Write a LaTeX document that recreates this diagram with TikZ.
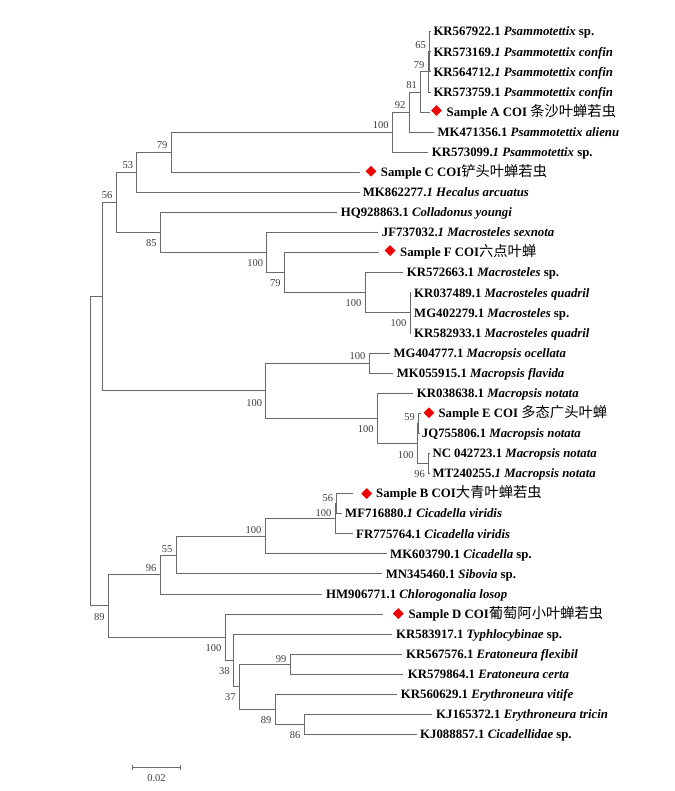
\documentclass[tikz,border=0pt]{standalone}
\usepackage{fontspec}
\setmainfont{Liberation Serif}
\newfontfamily\cjk{Noto Sans CJK SC}
\usetikzlibrary{shapes.geometric}
\definecolor{brc}{RGB}{105,105,105}
\definecolor{bsc}{RGB}{60,60,60}
\definecolor{mk}{RGB}{240,0,0}
\newcommand\ly[1]{(11.62+20.08*(#1))}
\newcommand\acc[1]{\textbf{#1}}
\newcommand\sci[1]{\textbf{\textit{#1}}}
\newcommand\zh[1]{{\cjk\fontsize{14.3}{16}\selectfont #1}}
\tikzset{
  br/.style={draw=brc, line width=0.8pt},
  leaf/.style={anchor=base west, inner sep=0pt, font=\fontsize{12.8}{15}\selectfont},
  bs/.style={font=\fontsize{10.5}{12}\selectfont, text=bsc, inner sep=0pt, anchor=east, xshift=-3.5pt},
  bsa/.style={bs, yshift=7pt},
  bsb/.style={bs, yshift=-10.5pt},
  mark diamond/.style={diamond, aspect=1, fill=mk, draw=none, minimum width=11pt, minimum height=11pt, inner sep=0pt}
}
\begin{document}
\begin{tikzpicture}[x=1pt,y=-1pt]
\useasboundingbox (0,0) rectangle (674,791);
% internal nodes
\coordinate (n65) at (429.5,{\ly{2}});
\coordinate (n79a) at (428,{\ly{3}});
\coordinate (n81) at (420.5,{\ly{4}});
\coordinate (n92) at (409,{\ly{5}});
\coordinate (n100a) at (392.3,{\ly{6}});
\coordinate (n79b) at (171,{\ly{7}});
\coordinate (n53) at (136.7,{\ly{8}});
\coordinate (n56) at (116,{\ly{9.5}});
\coordinate (n85) at (160.3,{\ly{11}});
\coordinate (n100b) at (266.7,{\ly{12}});
\coordinate (n79c) at (284.3,{\ly{13}});
\coordinate (n100c) at (365,{\ly{14}});
\coordinate (n100d) at (410,{\ly{15}});
\coordinate (nA) at (102.3,{\ly{14.1875}});
\coordinate (nMac) at (265.7,{\ly{18.875}});
\coordinate (nMacA) at (369,{\ly{17.5}});
\coordinate (nMacB) at (377.3,{\ly{20.25}});
\coordinate (nE2) at (417.3,{\ly{21.5}});
\coordinate (n59) at (418.5,{\ly{20.5}});
\coordinate (n96a) at (428.5,{\ly{22.5}});
\coordinate (root) at (90,{\ly{21.890625}});
\coordinate (nB) at (108.3,{\ly{29.59375}});
\coordinate (n96b) at (160,{\ly{28.03125}});
\coordinate (n55) at (176,{\ly{27.0625}});
\coordinate (n100f) at (265,{\ly{26.125}});
\coordinate (n100e) at (335,{\ly{25.25}});
\coordinate (n56b) at (336.7,{\ly{24.5}});
\coordinate (nD) at (225,{\ly{31.15625}});
\coordinate (n38) at (233.3,{\ly{32.3125}});
\coordinate (n37) at (239.3,{\ly{33.625}});
\coordinate (n99) at (290,{\ly{32.5}});
\coordinate (n89b) at (275,{\ly{34.75}});
\coordinate (n86) at (304,{\ly{35.5}});
% leaf branch ends
\coordinate (e1) at (430.5,{\ly{1}});
\coordinate (e2) at (430.5,{\ly{2}});
\coordinate (e3) at (430.5,{\ly{3}});
\coordinate (e4) at (430.5,{\ly{4}});
\coordinate (e5) at (430,{\ly{5}});
\coordinate (e6) at (434,{\ly{6}});
\coordinate (e7) at (428.3,{\ly{7}});
\coordinate (e8) at (360,{\ly{8}});
\coordinate (e9) at (359.5,{\ly{9}});
\coordinate (e10) at (336.7,{\ly{10}});
\coordinate (e11) at (378,{\ly{11}});
\coordinate (e12) at (379.3,{\ly{12}});
\coordinate (e13) at (402.7,{\ly{13}});
\coordinate (e14) at (411,{\ly{14}});
\coordinate (e15) at (411,{\ly{15}});
\coordinate (e16) at (411,{\ly{16}});
\coordinate (e17) at (390,{\ly{17}});
\coordinate (e18) at (393.3,{\ly{18}});
\coordinate (e19) at (413,{\ly{19}});
\coordinate (e20) at (421,{\ly{20}});
\coordinate (e21) at (419.5,{\ly{21}});
\coordinate (e22) at (429.5,{\ly{22}});
\coordinate (e23) at (429.5,{\ly{23}});
\coordinate (e24) at (353.3,{\ly{24}});
\coordinate (e25) at (341.7,{\ly{25}});
\coordinate (e26) at (353.3,{\ly{26}});
\coordinate (e27) at (386.7,{\ly{27}});
\coordinate (e28) at (381.7,{\ly{28}});
\coordinate (e29) at (321.7,{\ly{29}});
\coordinate (e30) at (383.3,{\ly{30}});
\coordinate (e31) at (391.7,{\ly{31}});
\coordinate (e32) at (401.7,{\ly{32}});
\coordinate (e33) at (403.3,{\ly{33}});
\coordinate (e34) at (396.7,{\ly{34}});
\coordinate (e35) at (431.7,{\ly{35}});
\coordinate (e36) at (416.7,{\ly{36}});
% branches
\draw[br] (root) |- (nA);   \draw[br] (root) |- (nB);
\draw[br] (nA) |- (n56);    \draw[br] (nA) |- (nMac);
\draw[br] (n56) |- (n53);   \draw[br] (n56) |- (n85);
\draw[br] (n53) |- (n79b);  \draw[br] (n53) |- (e9);
\draw[br] (n79b) |- (n100a);\draw[br] (n79b) |- (e8);
\draw[br] (n100a) |- (n92); \draw[br] (n100a) |- (e7);
\draw[br] (n92) |- (n81);   \draw[br] (n92) |- (e6);
\draw[br] (n81) |- (n79a);  \draw[br] (n81) |- (e5);
\draw[br] (n79a) |- (n65);  \draw[br] (n79a) |- (e4);
\draw[br] (n65) |- (e1); \draw[br] (n65) |- (e2); \draw[br] (n65) |- (e3);
\draw[br] (n85) |- (e10);   \draw[br] (n85) |- (n100b);
\draw[br] (n100b) |- (e11); \draw[br] (n100b) |- (n79c);
\draw[br] (n79c) |- (e12);  \draw[br] (n79c) |- (n100c);
\draw[br] (n100c) |- (e13); \draw[br] (n100c) |- (n100d);
\draw[br] (n100d) |- (e14); \draw[br] (n100d) |- (e15); \draw[br] (n100d) |- (e16);
\draw[br] (nMac) |- (nMacA);\draw[br] (nMac) |- (nMacB);
\draw[br] (nMacA) |- (e17); \draw[br] (nMacA) |- (e18);
\draw[br] (nMacB) |- (e19); \draw[br] (nMacB) |- (nE2);
\draw[br] (nE2) |- (n59);   \draw[br] (nE2) |- (n96a);
\draw[br] (n59) |- (e20);   \draw[br] (n59) |- (e21);
\draw[br] (n96a) |- (e22);  \draw[br] (n96a) |- (e23);
\draw[br] (nB) |- (n96b);   \draw[br] (nB) |- (nD);
\draw[br] (n96b) |- (n55);  \draw[br] (n96b) |- (e29);
\draw[br] (n55) |- (n100f); \draw[br] (n55) |- (e28);
\draw[br] (n100f) |- (n100e);\draw[br] (n100f) |- (e27);
\draw[br] (n100e) |- (n56b);\draw[br] (n100e) |- (e26);
\draw[br] (n56b) |- (e24);  \draw[br] (n56b) |- (e25);
\draw[br] (nD) |- (e30);    \draw[br] (nD) |- (n38);
\draw[br] (n38) |- (e31);   \draw[br] (n38) |- (n37);
\draw[br] (n37) |- (n99);   \draw[br] (n37) |- (n89b);
\draw[br] (n99) |- (e32);   \draw[br] (n99) |- (e33);
\draw[br] (n89b) |- (e34);  \draw[br] (n89b) |- (n86);
\draw[br] (n86) |- (e35);   \draw[br] (n86) |- (e36);
% bootstrap values
\node[bsa] (b65) at (n65) {65};
\node[bsa] (b79a) at (n79a) {79};
\node[bsa] (b81) at (n81) {81};
\node[bsa] (b92) at (n92) {92};
\node[bsa] (b100a) at (n100a) {100};
\node[bsa] (b79b) at (n79b) {79};
\node[bsa] (b53) at (n53) {53};
\node[bsa] (b56) at (n56) {56};
\node[bsb] (b85) at (n85) {85};
\node[bsb] (b100b) at (n100b) {100};
\node[bsb] (b79c) at (n79c) {79};
\node[bsb] (b100c) at (n100c) {100};
\node[bsb] (b100d) at (n100d) {100};
\node[bsa] (b100mA) at (nMacA) {100};
\node[bs, yshift=-12pt] (b100m) at (nMac) {100};
\node[bs, yshift=-11pt] (b100mB) at (nMacB) {100};
\node[bsa, yshift=-1pt] (b59) at (n59) {59};
\node[bs, yshift=-12pt] (b100e2) at (nE2) {100};
\node[bs, yshift=-11pt] (b96a) at (n96a) {96};
\node[bsa, yshift=-1pt] (b56b) at (n56b) {56};
\node[bsa, yshift=-1pt] (b100e) at (n100e) {100};
\node[bsa, yshift=-1pt] (b100f) at (n100f) {100};
\node[bsa, yshift=-1pt] (b55) at (n55) {55};
\node[bsa, yshift=-1pt] (b96b) at (n96b) {96};
\node[bs, yshift=-11pt] (b89a) at (nB) {89};
\node[bsb] (b100D) at (nD) {100};
\node[bs, yshift=-11pt] (b38) at (n38) {38};
\node[bsa, yshift=-2pt] (b99) at (n99) {99};
\node[bsb] (b37) at (n37) {37};
\node[bsb] (b89b) at (n89b) {89};
\node[bsb] (b86) at (n86) {86};
% markers
\node[mark diamond] (dA) at (436.5,{\ly{5}-1.5}) {};
\node[mark diamond] (dC) at (371,{\ly{8}-1}) {};
\node[mark diamond] (dF) at (390,{\ly{12}-2}) {};
\node[mark diamond] (dE) at (429,{\ly{20}-0.5}) {};
\node[mark diamond] (dB) at (366.7,{\ly{24}}) {};
\node[mark diamond] (dD) at (398.3,{\ly{30}-0.5}) {};
% leaf labels
\node[leaf] (L1) at (433.3,{\ly{1}+4.3}) {\acc{KR567922.1} \sci{Psammotettix} \acc{sp.}};
\node[leaf] (L2) at (433.3,{\ly{2}+4.3}) {\acc{KR573169.\textit{1}} \sci{Psammotettix confin}};
\node[leaf] (L3) at (433.3,{\ly{3}+4.3}) {\acc{KR564712.\textit{1}} \sci{Psammotettix confin}};
\node[leaf] (L4) at (433.3,{\ly{4}+4.3}) {\acc{KR573759.1} \sci{Psammotettix confin}};
\node[leaf] (L5) at (446.5,{\ly{5}+4.3}) {\acc{Sample A COI} \zh{条沙叶蝉若虫}};
\node[leaf] (L6) at (437.3,{\ly{6}+4.3}) {\acc{MK471356.1} \sci{Psammotettix alienu}};
\node[leaf] (L7) at (431.7,{\ly{7}+4.3}) {\acc{KR573099.\textit{1}} \sci{Psammotettix} \acc{sp.}};
\node[leaf] (L8) at (380.7,{\ly{8}+4.3}) {\acc{Sample C COI}\zh{铲头叶蝉若虫}};
\node[leaf] (L9) at (362.7,{\ly{9}+4.3}) {\acc{MK862277.\textit{1}} \sci{Hecalus arcuatus}};
\node[leaf] (L10) at (340.7,{\ly{10}+4.3}) {\acc{HQ928863.1} \sci{Colladonus youngi}};
\node[leaf] (L11) at (381.7,{\ly{11}+4.3}) {\acc{JF737032.\textit{1}} \sci{Macrosteles sexnota}};
\node[leaf] (L12) at (400,{\ly{12}+4.3}) {\acc{Sample F COI}\zh{六点叶蝉}};
\node[leaf] (L13) at (406.7,{\ly{13}+4.3}) {\acc{KR572663.1} \sci{Macrosteles} \acc{sp.}};
\node[leaf] (L14) at (414,{\ly{14}+4.3}) {\acc{KR037489.1} \sci{Macrosteles quadril}};
\node[leaf] (L15) at (414,{\ly{15}+4.3}) {\acc{MG402279.1} \sci{Macrosteles} \acc{sp.}};
\node[leaf] (L16) at (414,{\ly{16}+4.3}) {\acc{KR582933.1} \sci{Macrosteles quadril}};
\node[leaf] (L17) at (393.3,{\ly{17}+4.3}) {\acc{MG404777.1} \sci{Macropsis ocellata}};
\node[leaf] (L18) at (396.7,{\ly{18}+4.3}) {\acc{MK055915.1} \sci{Macropsis flavida}};
\node[leaf] (L19) at (416.7,{\ly{19}+4.3}) {\acc{KR038638.1} \sci{Macropsis notata}};
\node[leaf] (L20) at (438.3,{\ly{20}+4.3}) {\acc{Sample E COI} \zh{多态广头叶蝉}};
\node[leaf] (L21) at (421.7,{\ly{21}+4.3}) {\acc{JQ755806.1} \sci{Macropsis notata}};
\node[leaf] (L22) at (432.3,{\ly{22}+4.3}) {\acc{NC 042723.1} \sci{Macropsis notata}};
\node[leaf] (L23) at (432.3,{\ly{23}+4.3}) {\acc{MT240255.\textit{1}} \sci{Macropsis notata}};
\node[leaf] (L24) at (376,{\ly{24}+4.3}) {\acc{Sample B COI}\zh{大青叶蝉若虫}};
\node[leaf] (L25) at (345,{\ly{25}+4.3}) {\acc{MF716880.\textit{1}} \sci{Cicadella viridis}};
\node[leaf] (L26) at (356,{\ly{26}+4.3}) {\acc{FR775764.1} \sci{Cicadella viridis}};
\node[leaf] (L27) at (390,{\ly{27}+4.3}) {\acc{MK603790.1} \sci{Cicadella} \acc{sp.}};
\node[leaf] (L28) at (385.7,{\ly{28}+4.3}) {\acc{MN345460.1} \sci{Sibovia} \acc{sp.}};
\node[leaf] (L29) at (326,{\ly{29}+4.3}) {\acc{HM906771.1} \sci{Chlorogonalia losop}};
\node[leaf] (L30) at (408.3,{\ly{30}+4.3}) {\acc{Sample D COI}\zh{葡萄阿小叶蝉若虫}};
\node[leaf] (L31) at (396,{\ly{31}+4.3}) {\acc{KR583917.1} \sci{Typhlocybinae} \acc{sp.}};
\node[leaf] (L32) at (406,{\ly{32}+4.3}) {\acc{KR567576.1} \sci{Eratoneura flexibil}};
\node[leaf] (L33) at (407.7,{\ly{33}+4.3}) {\acc{KR579864.1} \sci{Eratoneura certa}};
\node[leaf] (L34) at (400.7,{\ly{34}+4.3}) {\acc{KR560629.1} \sci{Erythroneura vitife}};
\node[leaf] (L35) at (436,{\ly{35}+4.3}) {\acc{KJ165372.1} \sci{Erythroneura tricin}};
\node[leaf] (L36) at (420,{\ly{36}+4.3}) {\acc{KJ088857.1} \sci{Cicadellidae} \acc{sp.}};
% scale bar
\coordinate (sbL) at (132.3,767.3);
\coordinate (sbR) at (180.7,767.3);
\draw[br] (sbL) -- (sbR);
\draw[br] ([yshift=2.8pt]sbL) -- ([yshift=-2.8pt]sbL);
\draw[br] ([yshift=2.8pt]sbR) -- ([yshift=-2.8pt]sbR);
\node[font=\fontsize{10.5}{12}\selectfont, text=bsc, inner sep=0pt] (sbT) at (156.5,778) {0.02};
\end{tikzpicture}
\end{document}
